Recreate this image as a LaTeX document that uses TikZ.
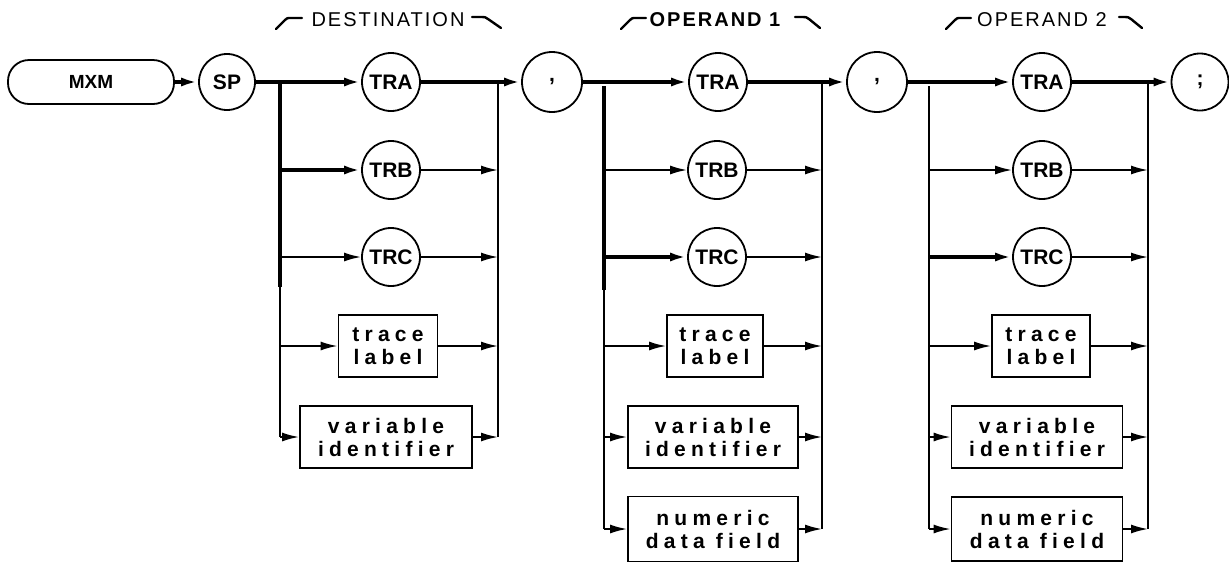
\documentclass[tikz,border=0pt]{standalone}
\usepackage{fontspec}
\setmainfont{Liberation Sans}
\usetikzlibrary{arrows.meta}
\begin{document}
\begin{tikzpicture}[x=1pt,y=-1pt,
  circ/.style={circle,draw,line width=1.8pt,minimum size=58pt,inner sep=0pt,font=\bfseries\fontsize{21}{21}\selectfont},
  lbox/.style={draw,line width=1.8pt,inner sep=0pt,align=center,font=\bfseries\fontsize{21}{23}\selectfont\addfontfeature{LetterSpace=25}},
  mainln/.style={line width=3.4pt},
  brln/.style={line width=1.8pt},
  arr/.style={-{Latex[length=17pt,width=9pt]}},
  hookln/.style={line width=2.4pt,line cap=round},
  lbl/.style={inner sep=0pt,font=\fontsize{20}{20}\selectfont\addfontfeature{LetterSpace=10}}]
\useasboundingbox (0,0) rectangle (1229,563);

% start
\node[draw,line width=1.8pt,rounded corners=21pt,minimum width=166pt,minimum height=44pt,inner sep=0pt,font=\bfseries\fontsize{19}{19}\selectfont] (mxm) at (91,82) {MXM};
\node[circ,minimum size=56pt] (sp) at (227,82) {SP};

% destination column
\node[circ] (dA) at (391,82) {TRA};
\node[circ] (dB) at (391,170) {TRB};
\node[circ] (dC) at (391,257) {TRC};
\node[lbox,minimum width=99pt,minimum height=62pt] (dT) at (388,346) {trace\\label};
\node[lbox,minimum width=172pt,minimum height=62pt] (dV) at (386,437) {variable\\identifier};
\coordinate (dL) at (280,82);
\coordinate (dLm) at (280,287);
\coordinate (dR) at (498,82);

% separators
\node[circ,minimum size=60pt] (c1) at (552,82) {,};
\node[circ,minimum size=60pt] (c2) at (877,82) {,};
\node[circ,minimum size=57pt] (sc) at (1200,82) {;};

% operand 1 column
\node[circ] (aA) at (718,82) {TRA};
\node[circ] (aB) at (717,170) {TRB};
\node[circ] (aC) at (717,257) {TRC};
\node[lbox,minimum width=96pt,minimum height=62pt] (aT) at (715,346) {trace\\label};
\node[lbox,minimum width=170pt,minimum height=62pt] (aV) at (713,437) {variable\\identifier};
\node[lbox,minimum width=170pt,minimum height=65pt] (aN) at (713,529) {numeric\\data field};
\coordinate (aL) at (604,86);
\coordinate (aLm) at (604,290);
\coordinate (aR) at (822,82);

% operand 2 column
\node[circ] (bA) at (1042,82) {TRA};
\node[circ] (bB) at (1042,170) {TRB};
\node[circ] (bC) at (1042,257) {TRC};
\node[lbox,minimum width=98pt,minimum height=62pt] (bT) at (1041,346) {trace\\label};
\node[lbox,minimum width=171pt,minimum height=62pt] (bV) at (1037,437) {variable\\identifier};
\node[lbox,minimum width=171pt,minimum height=64pt] (bN) at (1037,529) {numeric\\data field};
\coordinate (bL) at (929,86);
\coordinate (bLm) at (929,290);
\coordinate (bR) at (1148,82);

% main line
\draw[mainln,arr] (mxm) -- (sp);
\draw[mainln,arr] (sp) -- (dA);
\draw[mainln,arr] (dA) -- (c1);
\draw[mainln,arr] (c1) -- (aA);
\draw[mainln,arr] (aA) -- (c2);
\draw[mainln,arr] (c2) -- (bA);
\draw[mainln,arr] (bA) -- (sc);

% destination branches
\draw[mainln] (dL) -- (dLm);
\draw[brln] (dLm) -- (dV -| dL);
\draw[mainln,arr] (dB -| dL) -- (dB);
\draw[brln,arr] (dC -| dL) -- (dC);
\draw[brln,arr] (dT -| dL) -- (dT);
\draw[brln,arr] (dV -| dL) -- (dV);
\draw[brln] (dR) -- (dV -| dR);
\draw[brln,arr] (dB) -- (dB -| dR);
\draw[brln,arr] (dC) -- (dC -| dR);
\draw[brln,arr] (dT) -- (dT -| dR);
\draw[brln,arr] (dV) -- (dV -| dR);

% operand 1 branches
\draw[mainln] (aL) -- (aLm);
\draw[brln] (aLm) -- (aN -| aL);
\draw[brln,arr] (aB -| aL) -- (aB);
\draw[mainln,arr] (aC -| aL) -- (aC);
\draw[brln,arr] (aT -| aL) -- (aT);
\draw[brln,arr] (aV -| aL) -- (aV);
\draw[brln,arr] (aN -| aL) -- (aN);
\draw[brln] (aR) -- (aN -| aR);
\draw[brln,arr] (aB) -- (aB -| aR);
\draw[brln,arr] (aC) -- (aC -| aR);
\draw[brln,arr] (aT) -- (aT -| aR);
\draw[brln,arr] (aV) -- (aV -| aR);
\draw[brln,arr] (aN) -- (aN -| aR);

% operand 2 branches
\draw[brln] (bL) -- (bN -| bL);
\draw[brln,arr] (bB -| bL) -- (bB);
\draw[mainln,arr] (bC -| bL) -- (bC);
\draw[brln,arr] (bT -| bL) -- (bT);
\draw[brln,arr] (bV -| bL) -- (bV);
\draw[brln,arr] (bN -| bL) -- (bN);
\draw[brln] (bR) -- (bN -| bR);
\draw[brln,arr] (bB) -- (bB -| bR);
\draw[brln,arr] (bC) -- (bC -| bR);
\draw[brln,arr] (bT) -- (bT -| bR);
\draw[brln,arr] (bV) -- (bV -| bR);
\draw[brln,arr] (bN) -- (bN -| bR);

% group labels
\node[lbl] (ldest) at (388,20) {DESTINATION};
\node[lbl,font=\bfseries\fontsize{20}{20}\selectfont\addfontfeature{LetterSpace=10}] (lop1) at (715,20) {OPERAND 1};
\node[lbl] (lop2) at (1042,20) {OPERAND 2};

\draw[hookln] (276,29) -- (285,20) .. controls (287,18) .. (291,18) -- (302,18);
\draw[hookln] (472,17) -- (482,17) .. controls (485,17) .. (488,19) -- (501,28);
\draw[hookln] (621,29) -- (630,20) .. controls (632,18) .. (636,18) -- (646,18);
\draw[hookln] (795,17) -- (803,17) .. controls (806,17) .. (809,19) -- (820,28);
\draw[hookln] (946,29) -- (955,20) .. controls (957,18) .. (961,18) -- (971,18);
\draw[hookln] (1119,17) -- (1125,17) .. controls (1128,17) .. (1131,19) -- (1142,28);
\end{tikzpicture}
\end{document}
